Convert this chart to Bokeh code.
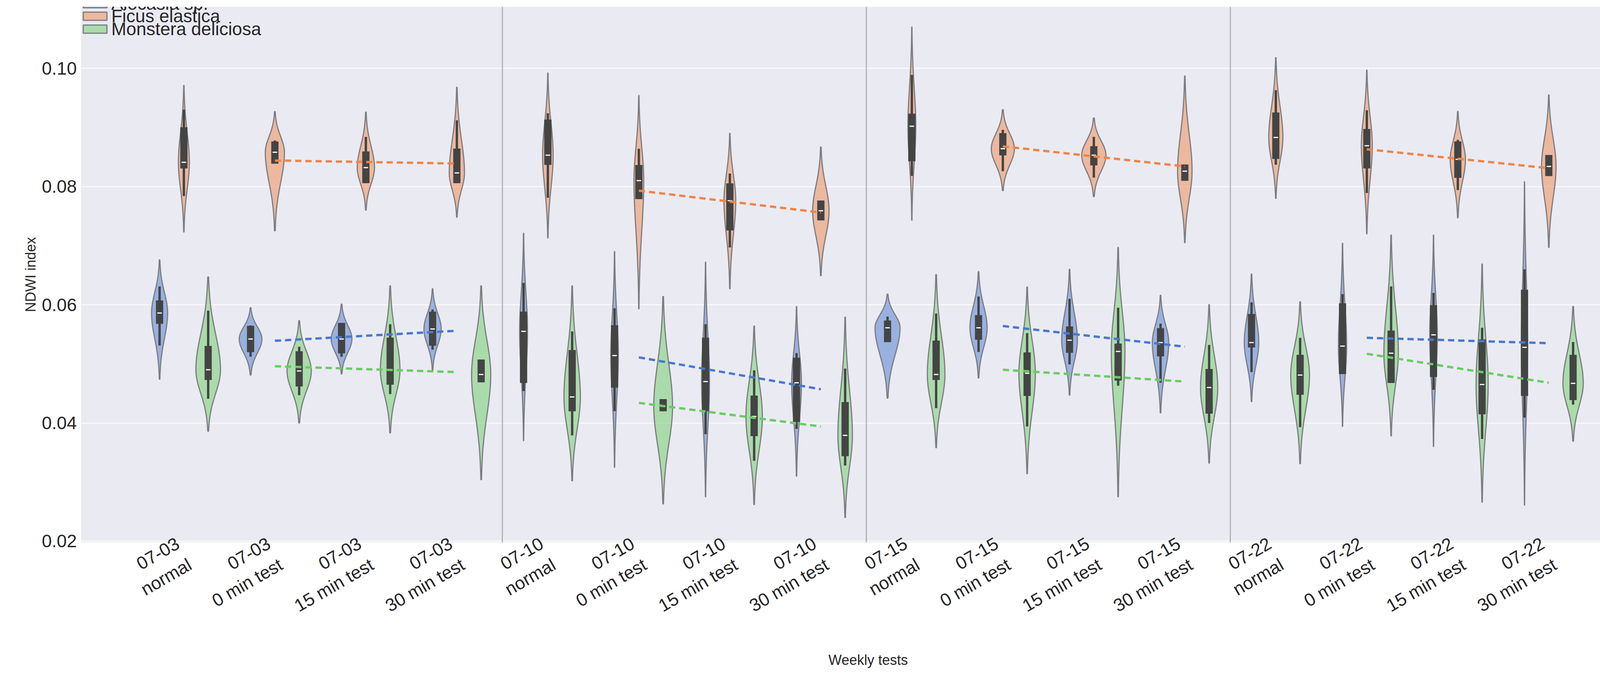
import math
import numpy as np
from bokeh.plotting import figure
from bokeh.models import FixedTicker, Span, Legend, LegendItem
from bokeh.embed import file_html
from bokeh.resources import INLINE

species = ["Alocasia sp.", "Ficus elastica", "Monstera deliciosa"]
tick_labels = []
for d in ["07-03", "07-10", "07-15", "07-22"]:
    for t in ["normal", "0 min test", "15 min test", "30 min test"]:
        tick_labels.append(d + "\n" + t)

# per species, per group (16): tail top, tail bottom, q1, median, q3, whisker low, whisker high, violin width (x units)
alo_top = [0.0676,0.0595,0.0601,0.0627, 0.0721,0.0690,0.0672,0.0597, 0.0618,0.0656,0.0660,0.0616, 0.0652,0.0704,0.0718,0.0808]
alo_bot = [0.0474,0.0481,0.0483,0.0489, 0.0370,0.0325,0.0275,0.0310, 0.0442,0.0476,0.0447,0.0417, 0.0436,0.0394,0.0360,0.0261]
alo_q1  = [0.0568,0.0520,0.0518,0.0531, 0.0468,0.0460,0.0420,0.0402, 0.0537,0.0541,0.0519,0.0513, 0.0528,0.0483,0.0478,0.0446]
alo_med = [0.0586,0.0542,0.0542,0.0559, 0.0555,0.0514,0.0470,0.0468, 0.0561,0.0561,0.0540,0.0536, 0.0536,0.0530,0.0549,0.0528]
alo_q3  = [0.0607,0.0564,0.0569,0.0588, 0.0588,0.0565,0.0544,0.0510, 0.0573,0.0582,0.0563,0.0560, 0.0584,0.0602,0.0599,0.0625]
alo_wlo = [0.0531,0.0512,0.0512,0.0524, 0.0454,0.0420,0.0381,0.0390, 0.0537,0.0520,0.0499,0.0468, 0.0486,0.0483,0.0456,0.0409]
alo_whi = [0.0631,0.0565,0.0569,0.0592, 0.0637,0.0594,0.0567,0.0518, 0.0580,0.0614,0.0610,0.0568, 0.0604,0.0618,0.0620,0.0660]
alo_w   = [0.176,0.249,0.227,0.189, 0.086,0.082,0.086,0.107, 0.275,0.189,0.172,0.180, 0.159,0.090,0.082,0.069]

fic_top = [0.0971,0.0927,0.0926,0.0968, 0.0992,0.0954,0.0890,0.0867, 0.1070,0.0930,0.0916,0.0987, 0.1018,0.0997,0.0927,0.0955]
fic_bot = [0.0723,0.0725,0.0760,0.0748, 0.0713,0.0593,0.0627,0.0649, 0.0743,0.0793,0.0783,0.0705, 0.0780,0.0720,0.0747,0.0697]
fic_q1  = [0.0831,0.0839,0.0806,0.0806, 0.0837,0.0779,0.0726,0.0743, 0.0843,0.0853,0.0836,0.0810, 0.0847,0.0831,0.0815,0.0818]
fic_med = [0.0841,0.0858,0.0832,0.0823, 0.0853,0.0810,0.0776,0.0759, 0.0902,0.0864,0.0853,0.0826, 0.0883,0.0869,0.0846,0.0834]
fic_q3  = [0.0900,0.0876,0.0859,0.0864, 0.0913,0.0836,0.0805,0.0776, 0.0923,0.0890,0.0868,0.0837, 0.0925,0.0897,0.0876,0.0853]
fic_wlo = [0.0784,0.0839,0.0806,0.0806, 0.0781,0.0779,0.0697,0.0743, 0.0818,0.0826,0.0815,0.0810, 0.0837,0.0789,0.0794,0.0818]
fic_whi = [0.0930,0.0878,0.0884,0.0912, 0.0924,0.0864,0.0822,0.0776, 0.0989,0.0896,0.0884,0.0837, 0.0963,0.0929,0.0879,0.0853]
fic_w   = [0.120,0.210,0.189,0.167, 0.116,0.107,0.129,0.180, 0.086,0.253,0.266,0.159, 0.155,0.120,0.167,0.159]

mon_top = [0.0647,0.0573,0.0632,0.0632, 0.0632,0.0614,0.0564,0.0579, 0.0651,0.0630,0.0697,0.0600, 0.0605,0.0718,0.0669,0.0597]
mon_bot = [0.0386,0.0400,0.0383,0.0304, 0.0302,0.0263,0.0262,0.0240, 0.0358,0.0314,0.0275,0.0332, 0.0331,0.0378,0.0266,0.0369]
mon_q1  = [0.0473,0.0462,0.0465,0.0469, 0.0420,0.0420,0.0378,0.0344, 0.0473,0.0446,0.0472,0.0416, 0.0448,0.0468,0.0415,0.0439]
mon_med = [0.0490,0.0488,0.0490,0.0482, 0.0444,0.0428,0.0411,0.0379, 0.0482,0.0484,0.0521,0.0460, 0.0481,0.0518,0.0465,0.0467]
mon_q3  = [0.0530,0.0521,0.0544,0.0507, 0.0523,0.0440,0.0446,0.0435, 0.0539,0.0519,0.0534,0.0491, 0.0515,0.0556,0.0541,0.0515]
mon_wlo = [0.0441,0.0447,0.0449,0.0469, 0.0379,0.0420,0.0336,0.0328, 0.0425,0.0394,0.0463,0.0400, 0.0393,0.0468,0.0373,0.0431]
mon_whi = [0.0590,0.0529,0.0567,0.0507, 0.0555,0.0440,0.0489,0.0492, 0.0585,0.0552,0.0595,0.0532, 0.0544,0.0631,0.0561,0.0537]
mon_w   = [0.270,0.266,0.215,0.210, 0.180,0.206,0.180,0.159, 0.193,0.180,0.150,0.189, 0.206,0.159,0.133,0.223]

# trend lines: groups (0 min -> 30 min), value at start, value at end
trend_start = [1, 5, 9, 13]
trend_end = [3, 7, 11, 15]
alo_trend = [(0.0539, 0.0556), (0.0511, 0.0457), (0.0564, 0.0529), (0.0544, 0.0535)]
fic_trend = [(0.0844, 0.0839), (0.0793, 0.0756), (0.0868, 0.0834), (0.0863, 0.0831)]
mon_trend = [(0.0496, 0.0486), (0.0434, 0.0394), (0.0490, 0.0470), (0.0517, 0.0468)]

fills = ["#4878d0", "#ee854a", "#6acc64"]
lines = ["#4878d0", "#ee854a", "#6acc64"]
offsets = [-0.267, 0.0, 0.267]
FONT = "Liberation Sans"

p = figure(width=4247, height=1716, x_range=(-1.13, 16.17), y_range=(0.0198, 0.1104),
           output_backend="svg", toolbar_location=None,
           min_border_left=207, min_border_right=10, min_border_top=17, min_border_bottom=329)
p.background_fill_color = "#eaeaf2"
p.border_fill_color = "white"
p.outline_line_color = None
p.xgrid.grid_line_color = None
p.ygrid.grid_line_color = "white"
p.ygrid.grid_line_width = 2

for ax in (p.xaxis[0], p.yaxis[0]):
    ax.axis_line_color = None
    ax.major_tick_line_color = None
    ax.minor_tick_line_color = None
    ax.major_label_text_font = FONT
    ax.major_label_text_font_size = "46px"
    ax.major_label_text_color = "#262626"
    ax.axis_label_text_font = FONT
    ax.axis_label_text_font_size = "36px"
    ax.axis_label_text_font_style = "normal"
    ax.axis_label_text_color = "#262626"

p.yaxis.ticker = FixedTicker(ticks=[0.02, 0.04, 0.06, 0.08, 0.10])
p.yaxis.major_label_overrides = {0.02: "0.02", 0.04: "0.04", 0.06: "0.06", 0.08: "0.08", 0.1: "0.10"}
p.yaxis.axis_label = "NDWI index"
p.xaxis.ticker = FixedTicker(ticks=list(range(16)))
p.xaxis.major_label_overrides = {i: lab for i, lab in enumerate(tick_labels)}
p.xaxis.major_label_orientation = math.pi / 6
p.xaxis.major_label_standoff = 20
p.xaxis.axis_label = "Weekly tests"
p.xaxis.axis_label_standoff = 40

for xs in (3.5, 7.5, 11.5):
    p.add_layout(Span(location=xs, dimension="height", line_color="#b0b0b3", line_width=3))

data = [
    (alo_top, alo_bot, alo_q1, alo_med, alo_q3, alo_wlo, alo_whi, alo_w),
    (fic_top, fic_bot, fic_q1, fic_med, fic_q3, fic_wlo, fic_whi, fic_w),
    (mon_top, mon_bot, mon_q1, mon_med, mon_q3, mon_wlo, mon_whi, mon_w),
]

renderers = []
for si, (top, bot, q1, med, q3, wlo, whi, w) in enumerate(data):
    pxs, pys = [], []
    for g in range(16):
        x0 = g + offsets[si]
        v = np.linspace(bot[g], top[g], 160)
        s_up = (top[g] - med[g]) / 2.6
        s_dn = (med[g] - bot[g]) / 2.6
        z = np.where(v >= med[g], (v - med[g]) / s_up, (v - med[g]) / s_dn)
        hw = w[g] / 2 * np.exp(-0.5 * z ** 2)
        pxs.append(list(x0 - hw) + list((x0 + hw)[::-1]))
        pys.append(list(v) + list(v[::-1]))
    r = p.patches(pxs, pys, fill_color=fills[si], fill_alpha=0.5,
                  line_color="#7c7c80", line_width=3)
    renderers.append(r)
    xc = [g + offsets[si] for g in range(16)]
    p.segment(xc, wlo, xc, whi, line_color="#444444", line_width=6)
    p.vbar(x=xc, bottom=q1, top=q3, width=0.075, fill_color="#444444", line_color="#444444")
    p.segment([x - 0.025 for x in xc], med, [x + 0.025 for x in xc], med, line_color="white", line_width=3)

for si, tr in enumerate([alo_trend, fic_trend, mon_trend]):
    for k in range(4):
        p.line([trend_start[k], trend_end[k]], [tr[k][0], tr[k][1]], line_color=lines[si],
               line_width=6, line_dash="16 10")

frame_h = 1370
for si, yc in enumerate([-8, 24, 57]):
    leg = Legend(items=[LegendItem(label=species[si], renderers=[renderers[si]])],
                 location=(-2, frame_h - yc - 27), orientation="vertical",
                 label_text_font=FONT, label_text_font_size="46px", label_text_color="#262626",
                 glyph_width=76, glyph_height=26, padding=0, margin=0,
                 label_standoff=4, background_fill_alpha=0, border_line_color=None)
    p.add_layout(leg)

open("out.html", "w").write(file_html(p, INLINE))
